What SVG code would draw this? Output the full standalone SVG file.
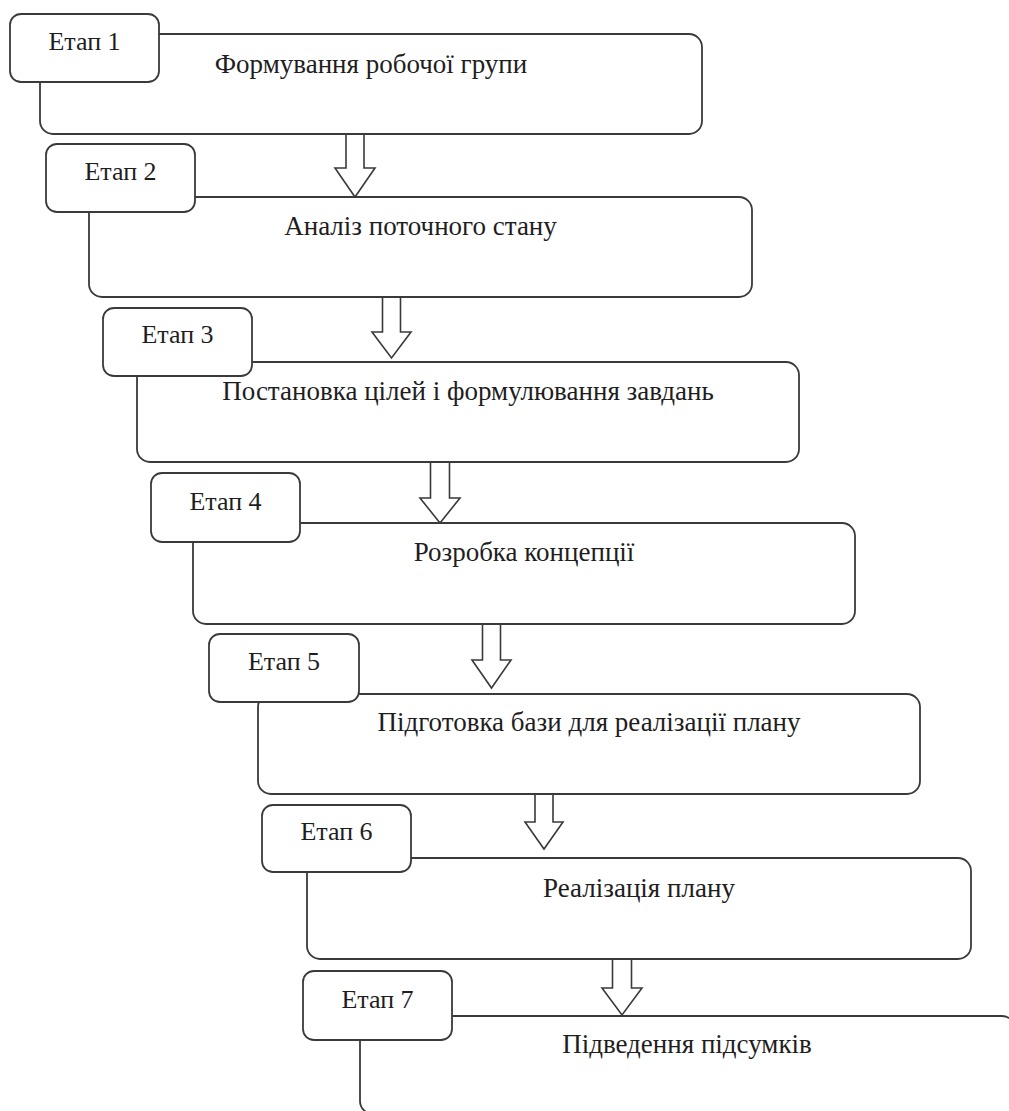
<svg xmlns="http://www.w3.org/2000/svg" width="1009" height="1111" viewBox="0 0 1009 1111">
<style>
.big{fill:#fff;stroke:#3a3a3a;stroke-width:1.8}
.tab{fill:#fff;stroke:#3a3a3a;stroke-width:1.8}
.arr{fill:#fff;stroke:#3a3a3a;stroke-width:1.6;stroke-linejoin:miter}
text{font-family:"Liberation Serif","Times New Roman",serif;font-size:26px;fill:#1e1e1e;text-anchor:middle}
text.main{font-size:27px}
</style>
<rect width="1009" height="1111" fill="#fff"/>
<g id="connectors">
<path class="arr" d="M346,134 V168 H335 L355,197 L375,168 H364 V134"/>
<path class="arr" d="M382.5,297 V332 H372 L391.5,358 L411,332 H400.5 V297"/>
<path class="arr" d="M430.5,462 V498 H420 L440,523 L460,498 H449.5 V462"/>
<path class="arr" d="M482.5,624 V660 H472 L491.5,688 L511,660 H500.5 V624"/>
<path class="arr" d="M535,794 V822 H525 L544,849 L563,822 H553 V794"/>
<path class="arr" d="M612.5,959 V988 H602 L622,1015 L642,988 H631.5 V959"/>
</g>
<g id="stage1">
<rect class="big" x="40" y="34" width="662" height="100" rx="13"/>
<rect class="tab" x="10" y="14" width="149" height="68" rx="11"/>
<text x="84.5" y="50">Етап 1</text>
<text class="main" x="371" y="73">Формування робочої групи</text>
</g>
<g id="stage2">
<rect class="big" x="89" y="197" width="663" height="100" rx="13"/>
<rect class="tab" x="46" y="144" width="149" height="68" rx="11"/>
<text x="120.5" y="180">Етап 2</text>
<text class="main" x="420.5" y="235">Аналіз поточного стану</text>
</g>
<g id="stage3">
<rect class="big" x="137" y="362" width="662" height="100" rx="13"/>
<rect class="tab" x="103" y="308" width="149" height="68" rx="11"/>
<text x="177.5" y="343">Етап 3</text>
<text class="main" x="468" y="400">Постановка цілей і формулювання завдань</text>
</g>
<g id="stage4">
<rect class="big" x="193" y="523" width="662" height="101" rx="13"/>
<rect class="tab" x="151" y="473" width="149" height="69" rx="11"/>
<text x="225.5" y="510">Етап 4</text>
<text class="main" x="524" y="561">Розробка концепції</text>
</g>
<g id="stage5">
<rect class="big" x="258" y="694" width="662" height="100" rx="13"/>
<rect class="tab" x="209" y="634" width="150" height="68" rx="11"/>
<text x="284" y="670">Етап 5</text>
<text class="main" x="589" y="731">Підготовка бази для реалізації плану</text>
</g>
<g id="stage6">
<rect class="big" x="307" y="858" width="664" height="101" rx="13"/>
<rect class="tab" x="262" y="805" width="149" height="67" rx="11"/>
<text x="336.5" y="840">Етап 6</text>
<text class="main" x="639" y="897">Реалізація плану</text>
</g>
<g id="stage7">
<rect class="big" x="360" y="1016" width="655" height="98" rx="13"/>
<rect class="tab" x="303" y="971" width="149" height="69" rx="11"/>
<text x="377.5" y="1008">Етап 7</text>
<text class="main" x="687" y="1053">Підведення підсумків</text>
</g>
</svg>
